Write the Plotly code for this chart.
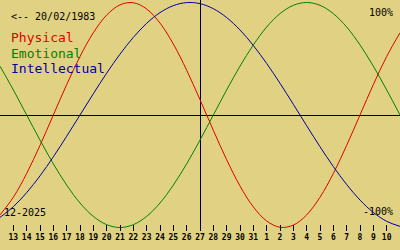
import plotly.graph_objects as go

# Days shown (12 Dec 2025 .. 11 Jan 2026); today = 27 Dec 2025
days = [12, 13, 14, 15, 16, 17, 18, 19, 20, 21, 22, 23, 24, 25, 26, 27,
        28, 29, 30, 31, 1, 2, 3, 4, 5, 6, 7, 8, 9, 10, 11]
today_index = 15

physical = [-0.888, -0.731, -0.520, -0.270, 0.000, 0.270, 0.520, 0.731, 0.888,
            0.979, 0.998, 0.942, 0.817, 0.631, 0.398, 0.136, -0.136, -0.398,
            -0.631, -0.817, -0.942, -0.998, -0.979, -0.888, -0.731, -0.520,
            -0.270, 0.000, 0.270, 0.520, 0.731]
emotional = [0.434, 0.223, 0.000, -0.223, -0.434, -0.623, -0.782, -0.901, -0.975,
             -1.000, -0.975, -0.901, -0.782, -0.623, -0.434, -0.223, 0.000, 0.223,
             0.434, 0.623, 0.782, 0.901, 0.975, 1.000, 0.975, 0.901, 0.782,
             0.623, 0.434, 0.223, 0.000]
intellectual = [-0.910, -0.815, -0.690, -0.541, -0.372, -0.189, 0.000, 0.189, 0.372,
                0.541, 0.690, 0.815, 0.910, 0.972, 0.999, 0.990, 0.945, 0.866,
                0.756, 0.618, 0.458, 0.282, 0.095, -0.095, -0.282, -0.458, -0.618,
                -0.756, -0.866, -0.945, -0.990]

series_names = ["Physical", "Emotional", "Intellectual"]
series_colors = ["#e00000", "#008000", "#0000a0"]
birth_label = "<-- 20/02/1983"
month_label = "12-2025"

W, H = 400, 250
BOTTOM = 19
PH = H - BOTTOM
BG = "#e1d283"
MONO = "DejaVu Sans Mono, monospace"

x = list(range(len(days)))
fig = go.Figure()
for name, vals, col in zip(series_names, [physical, emotional, intellectual], series_colors):
    fig.add_trace(go.Scatter(x=x, y=vals, mode="lines", name=name,
                             line=dict(color=col, width=1, shape="spline", smoothing=1.0),
                             hoverinfo="skip"))

# today marker: vertical line, offset half a pixel so it renders crisp
fig.add_shape(type="line", xsizemode="pixel", xanchor=today_index, x0=0.5, x1=0.5,
              y0=0, y1=1, yref="paper", line=dict(color="black", width=1), layer="below")

def py(pix):
    return 1 - pix / PH

ann = []
ann.append(dict(text=birth_label, x=10 / W, y=py(16.7), xanchor="left", yanchor="middle",
                font=dict(family=MONO, size=10, color="black")))
ys = [37.3, 53.0, 68.5]
for name, col, yy in zip(series_names, series_colors, ys):
    ann.append(dict(text=name, x=10 / W, y=py(yy), xanchor="left", yanchor="middle",
                    font=dict(family=MONO, size=13, color=col)))
ann.append(dict(text="100%", x=394 / W, y=py(12.2), xanchor="right", yanchor="middle",
                font=dict(family=MONO, size=10, color="black")))
ann.append(dict(text="-100%", x=394 / W, y=py(211.7), xanchor="right", yanchor="middle",
                font=dict(family=MONO, size=10, color="black")))
ann.append(dict(text=month_label, x=3 / W, y=py(212.5), xanchor="left", yanchor="middle",
                font=dict(family=MONO, size=10, color="black")))
for a in ann:
    a.update(xref="paper", yref="paper", showarrow=False, borderpad=0)

y_top = 115 / 112.5
y_bot = -(PH - 115) / 112.5

fig.update_layout(
    width=W, height=H, autosize=False,
    margin=dict(l=0, r=0, t=0, b=BOTTOM, pad=0),
    paper_bgcolor=BG, plot_bgcolor=BG,
    showlegend=False,
    annotations=ann,
    xaxis=dict(range=[0, len(days) - 1], showgrid=False, zeroline=False, showline=False,
               tickmode="array", tickvals=x[1:-1], ticktext=[str(d) for d in days[1:-1]],
               ticks="inside", ticklen=6, tickwidth=1, tickcolor="black",
               tickfont=dict(family=MONO, size=8, color="black", weight="bold")),
    yaxis=dict(range=[y_bot, y_top], showgrid=False, zeroline=True, zerolinecolor="black",
               zerolinewidth=1, showline=False, showticklabels=False, ticks=""),
)

fig.write_html("out.html")
